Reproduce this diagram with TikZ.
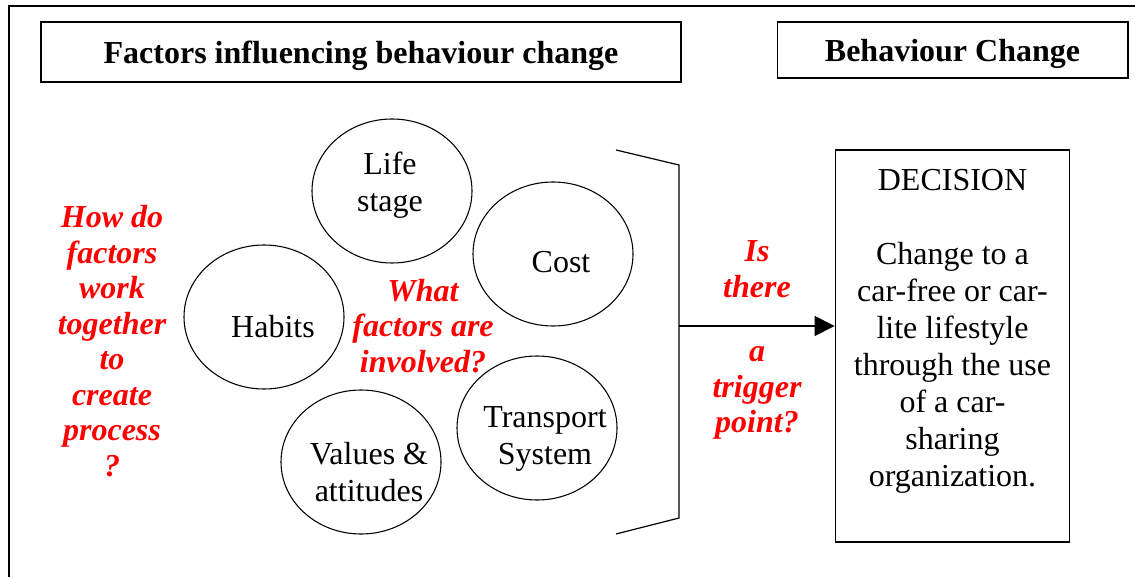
\documentclass[tikz,border=0pt]{standalone}
\usepackage{fontspec}
\setmainfont{Liberation Serif}
\usetikzlibrary{arrows.meta,shapes.geometric}

\begin{document}
\begin{tikzpicture}[x=0.75pt,y=-0.75pt]
        \tikzset{title/.style = {draw,line width=1pt,inner sep=0pt,text depth=0pt,font=\fontsize{24}{28}\selectfont\bfseries}}
        \tikzset{factor/.style = {shape=ellipse,draw,line width=0.8pt,minimum width=120pt,minimum height=108pt,inner sep=0pt}}
        \tikzset{txt/.style = {align=center,inner sep=0pt,yshift=-3pt,font=\fontsize{24}{27.75}\selectfont}}
        \tikzset{question/.style = {align=center,inner sep=0pt,text=red,font=\fontsize{24}{26.6}\selectfont\bfseries\itshape}}
        \tikzset{edge/.style = {-{Triangle[length=15pt,width=15pt]},line width=1pt}}

        \useasboundingbox (0,0) rectangle (1135,577);
        \draw[line width=1.4pt] (9,577) -- (9,6) -- (1135,6);

        % headings
        \node[title, minimum width=480pt, minimum height=45pt] (head1) at (361,52) {Factors influencing behaviour change};
        \node[title, minimum width=263pt, minimum height=42pt] (head2) at (952.5,50) {Behaviour Change};

        % factors
        \foreach \n/\x/\y/\tx/\ty/\t in {life/392/191/390/181/{Life\\stage},
                                         cost/553/254/561/258/{Cost},
                                         habits/264/317/273/323/{Habits},
                                         values/361/462/369/468/{Values \&\\attitudes},
                                         transport/537/428/545/435/{Transport\\System}}
        {
            \node[factor] (\n) at (\x,\y) {};
            \node[txt] (\n-txt) at (\tx,\ty) {\t};
        }

        % questions
        \node[question] (how) at (112,341) {How do\\factors\\work\\together\\to\\create\\process\\?};
        \node[question] (what) at (423,326) {What\\factors are\\involved?};
        \node[question] (trig1) at (757,269) {Is\\there};
        \node[question] (trig2) at (757,393) {a\\trigger\\point?};

        % decision
        \node[draw, line width=0.9pt, minimum width=176pt, minimum height=294pt] (decision) at (952.5,346) {};
        \node[txt] (decision-txt) at (952.5,327) {DECISION\\[27.75pt]Change to a\\car-free or car-\\lite lifestyle\\through the use\\of a car-\\sharing\\organization.};

        %edges
        \coordinate (b1) at (616,150);
        \coordinate (b2) at (679,165);
        \coordinate (b3) at (679,518);
        \coordinate (b4) at (616,534);
        \coordinate (bmid) at (679,326);
        \draw[line width=0.9pt] (b1) -- (b2) -- (b3) -- (b4);
        \draw[edge] (bmid) -- (bmid -| decision.west);

    \end{tikzpicture}
\end{document}
